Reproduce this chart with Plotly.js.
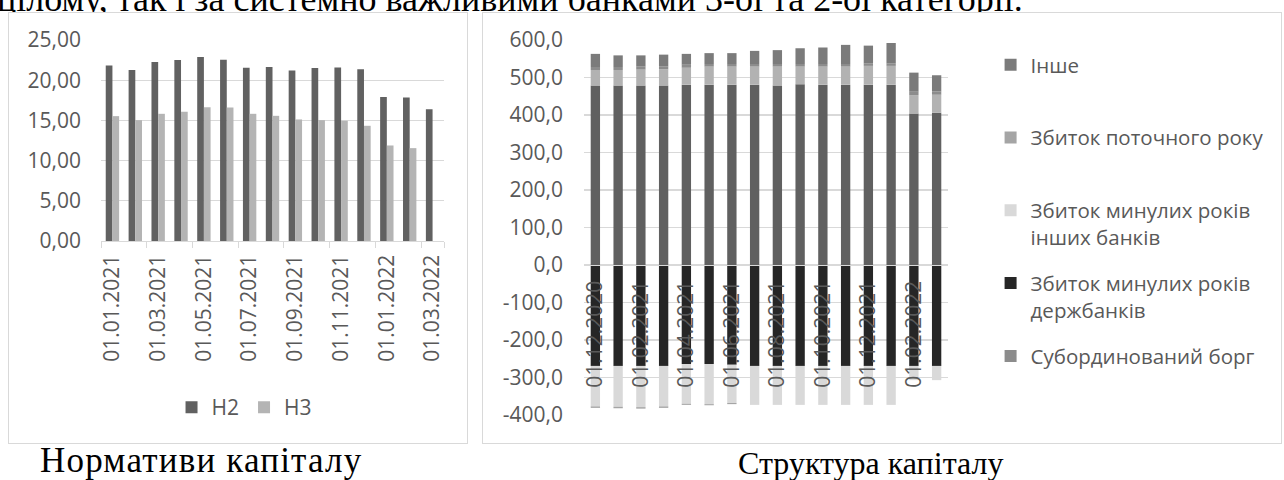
<!DOCTYPE html>
<html><head><meta charset="utf-8">
<script src="https://cdn.plot.ly/plotly-3.0.1.min.js"></script>
<style>
html,body{margin:0;padding:0;background:#fff;}
body{width:1284px;height:480px;position:relative;overflow:hidden;}
.box{position:absolute;border:1px solid #d9d9d9;box-sizing:border-box;background:#fff;}
.cap{position:absolute;font-family:"Liberation Serif","Times New Roman",serif;color:#000;white-space:nowrap;}
</style></head><body>
<div class="cap" style="left:-3px;top:-19px;font-size:36px;line-height:36px;">цілому, так і за системно важливими банками 3-ої та 2-ої категорії.</div>
<div class="box" style="left:8px;top:12px;width:460px;height:432px;"><div id="c1" style="width:458px;height:430px;"></div></div>
<div class="box" style="left:482px;top:12px;width:800px;height:432px;"><div id="c2" style="width:798px;height:430px;"></div></div>
<div class="cap" style="left:40px;top:443px;font-size:35px;line-height:35px;letter-spacing:1.2px;">Нормативи капіталу</div>
<div class="cap" style="left:738px;top:447px;font-size:32px;line-height:32px;">Структура капіталу</div>
<script>
// ---------- Chart 1: Нормативи капіталу ----------
const normDates = ["01.01.2021","01.02.2021","01.03.2021","01.04.2021","01.05.2021","01.06.2021","01.07.2021","01.08.2021","01.09.2021","01.10.2021","01.11.2021","01.12.2021","01.01.2022","01.02.2022","01.03.2022"];
const h2Values = [21.84,21.26,22.26,22.51,22.88,22.55,21.55,21.64,21.22,21.51,21.59,21.35,17.90,17.86,16.40];
const h3Values = [15.53,15.03,15.82,16.07,16.65,16.61,15.82,15.57,15.12,15.03,14.95,14.33,11.88,11.55,null];
const normXTicks = ["01.01.2021","01.03.2021","01.05.2021","01.07.2021","01.09.2021","01.11.2021","01.01.2022","01.03.2022"];
const normYTickVals = [0,5,10,15,20,25];
const normYTickText = ["0,00","5,00","10,00","15,00","20,00","25,00"];

// ---------- Chart 2: Структура капіталу ----------
const capDates = ["01.12.2020","01.01.2021","01.02.2021","01.03.2021","01.04.2021","01.05.2021","01.06.2021","01.07.2021","01.08.2021","01.09.2021","01.10.2021","01.11.2021","01.12.2021","01.01.2022","01.02.2022","01.03.2022"];
const capBase      = [479,479,479,479,481,481,481,481,479,482,481,481,481,481,404,406];
const capSecond    = [41,41,42,43,45,48,48,48,50,47,48,48,50,50,49,48];
const subDebt      = [8,8,8,8,8,7,7,7,7,7,7,7,7,7,9,9];
const lossStateBanks = [-269,-269,-269,-269,-264,-264,-266,-269,-269,-269,-269,-269,-269,-269,-269,-269];
const lossOtherBanks = [-108,-109,-110,-108,-106,-107,-102,-104,-104,-104,-104,-104,-104,-104,-38,-38];
const lossCurrentYear = [-4,-4,-4,-4,-3,-3,-3,0,0,0,0,0,0,0,0,0];
const otherCap     = [35,31,30,31,29,29,29,35,37,42,44,51,47,54,51,43];
const capXTicks = ["01.12.2020","01.02.2021","01.04.2021","01.06.2021","01.08.2021","01.10.2021","01.12.2021","01.02.2022"];
const capYTickVals = [-400,-300,-200,-100,0,100,200,300,400,500,600];
const capYTickText = ["-400,0","-300,0","-200,0","-100,0","0,0","100,0","200,0","300,0","400,0","500,0","600,0"];

const FONT = {family:"Open Sans, sans-serif", size:21, color:"#595959"};
const LFONT = {family:"Open Sans, sans-serif", size:20.5, color:"#595959"};
const GRID = "#d9d9d9";

Plotly.newPlot("c1", [
  {type:"bar", name:"Н2", x:normDates, y:h2Values, marker:{color:"#616161"}},
  {type:"bar", name:"Н3", x:normDates, y:h3Values, marker:{color:"#b4b4b4"}}
], {
  width:458, height:430,
  margin:{l:92, r:23, t:27, b:202.3},
  paper_bgcolor:"rgba(0,0,0,0)", plot_bgcolor:"rgba(0,0,0,0)",
  font:FONT,
  barmode:"group", bargap:0.415, bargroupgap:0,
  xaxis:{type:"category", tickvals:normXTicks, ticktext:normXTicks, tickangle:-90,
         showline:true, linecolor:GRID, linewidth:1.3, ticks:"outside", ticklen:6, tickcolor:GRID,
         tickson:"boundaries", showgrid:false, ticklabelstandoff:4},
  yaxis:{range:[0,25], tickvals:normYTickVals, ticktext:normYTickText, showgrid:true,
         gridcolor:GRID, gridwidth:1.3, zeroline:false, showline:false, ticklabelstandoff:19},
  showlegend:true,
  legend:{orientation:"h", x:0.417, xanchor:"center", y:-0.829, yanchor:"middle",
          font:FONT, bgcolor:"rgba(0,0,0,0)"}
}, {staticPlot:true});

// legendrank gives the legend order (top of the stack first)
const capTraces = [
  {name:"Капітал (основна частина)", y:capBase, color:"#606060", show:false, rank:7},
  {name:"Капітал (додаткова частина)", y:capSecond, color:"#b2b2b2", show:false, rank:6},
  {name:"Субординований борг<br> ", y:subDebt, color:"#8c8c8c", show:true, rank:5},
  {name:"Збиток минулих років<br>держбанків", y:lossStateBanks, color:"#262626", show:true, rank:4},
  {name:"Збиток минулих років<br>інших банків", y:lossOtherBanks, color:"#d9d9d9", show:true, rank:3},
  {name:"Збиток поточного року<br> ", y:lossCurrentYear, color:"#a5a5a5", show:true, rank:2},
  {name:"Інше<br> ", y:otherCap, color:"#7b7b7b", show:true, rank:1}
].map((t,i)=>({type:"bar", x:capDates, y:t.y, name:t.name, showlegend:t.show,
  legendgroup:"g"+i, legendrank:t.rank, marker:{color:t.color, line:{width:0}}}));

const yMin = capYTickVals[0], yMax = capYTickVals[capYTickVals.length-1];
Plotly.newPlot("c2", capTraces, {
  width:798, height:430,
  margin:{l:101, r:303, t:27, b:28},
  paper_bgcolor:"rgba(0,0,0,0)", plot_bgcolor:"rgba(0,0,0,0)",
  font:FONT,
  barmode:"relative", bargap:0.59,
  xaxis:{type:"category", tickvals:capXTicks, ticktext:capXTicks, tickangle:-90,
         anchor:"free", position:(0-yMin)/(yMax-yMin),
         showline:true, linecolor:GRID, linewidth:1.3, ticks:"", showgrid:false, ticklabelstandoff:6},
  yaxis:{range:[yMin,yMax], tickvals:capYTickVals, ticktext:capYTickText, showgrid:true,
         gridcolor:GRID, gridwidth:1.3, zeroline:false, showline:false, ticklabelstandoff:20},
  showlegend:true,
  legend:{orientation:"v", x:1.117, xanchor:"left", y:0.987, yanchor:"top", valign:"top",
          traceorder:"grouped", tracegroupgap:16.5, font:LFONT, bgcolor:"rgba(0,0,0,0)"}
}, {staticPlot:true});
</script>
</body></html>
